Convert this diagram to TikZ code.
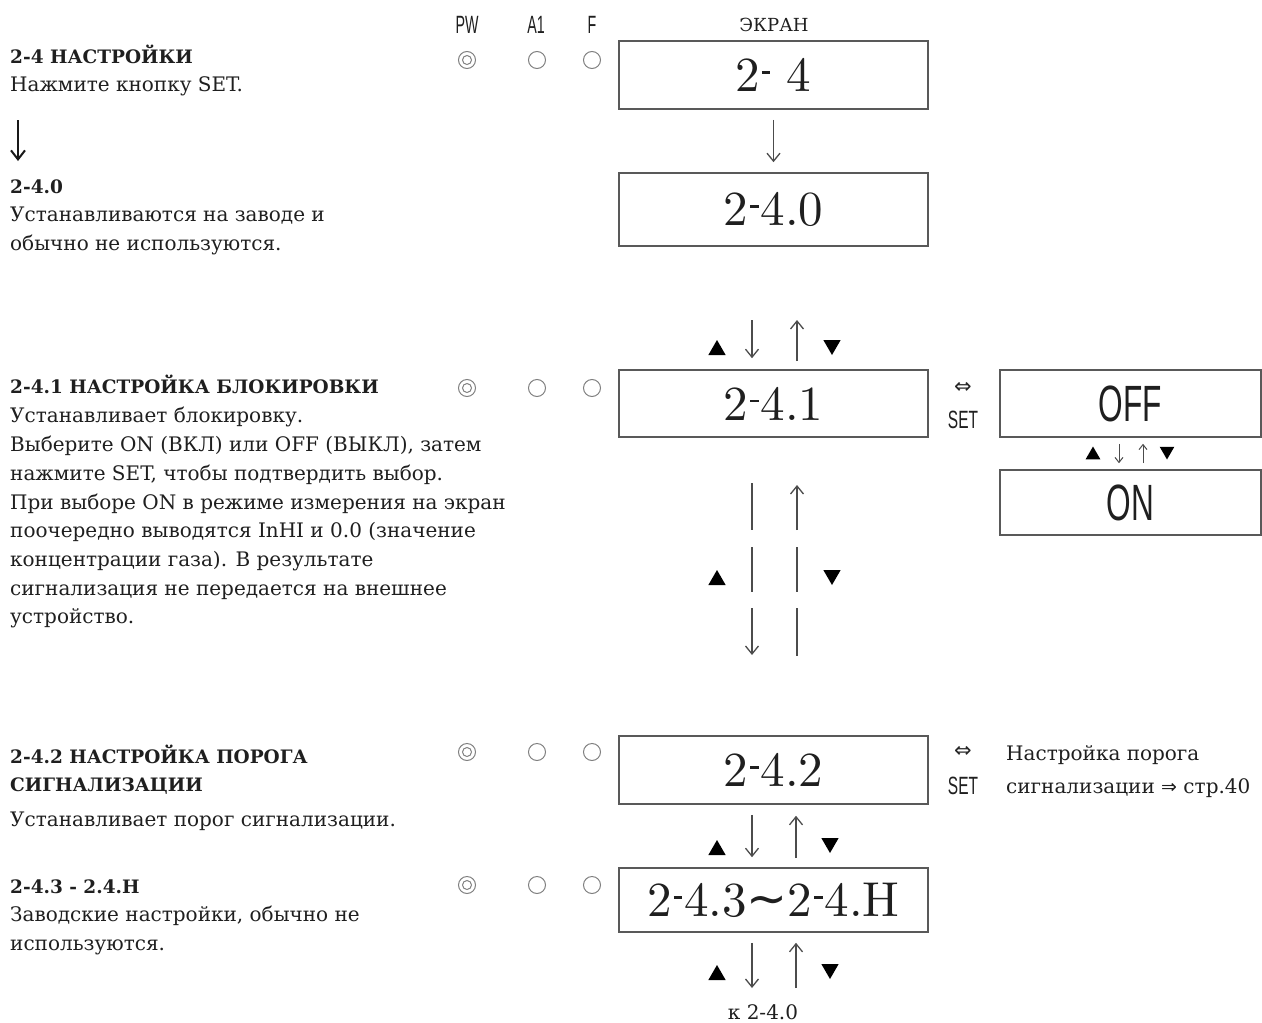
\documentclass[tikz,border=0pt]{standalone}
\usepackage{fontspec}
\usepackage{graphicx}
\usetikzlibrary{arrows.meta,shapes.geometric}
\newfontfamily\txtf{DejaVu Serif}
\newfontfamily\symf{DejaVu Sans}
\newfontfamily\condf{Liberation Sans}
\newfontfamily\lmten{lmroman10-regular.otf}
\newcommand\hy{\kern0.04em\rule[0.36em]{0.17em}{0.06em}\kern0.04em}
\newcommand\cnd[3]{\scalebox{#1}[1]{\condf\fontsize{#2}{#2}\selectfont #3}}
\newcommand\hd[1]{{\fontsize{18.5}{28.7}\selectfont\bfseries #1}}
\begin{document}
\begin{tikzpicture}[x=1pt,y=-1pt,
  disp/.style={draw=black!65, line width=1.6pt, minimum width=309pt, inner sep=0pt,
    font=\lmten\fontsize{49}{49}\selectfont, text=black!88},
  body/.style={anchor=base west, inner sep=0pt, font=\txtf\fontsize{20}{28.7}\selectfont, text=black!88},
  arr/.style={draw=black!70, line width=1.3pt, -{Straight Barb[length=8pt,width=13pt]}},
  arrs/.style={draw=black!70, line width=1pt, -{Straight Barb[length=5pt,width=8pt]}},
  ln/.style={draw=black!70, line width=1.3pt},
  bigarr/.style={draw=black!90, line width=2pt, -{Straight Barb[length=9pt,width=14pt]}},
  led/.style={circle, draw=black!50, line width=1pt, minimum size=17pt, inner sep=0pt},
  ledin/.style={circle, draw=black!50, line width=1pt, minimum size=9pt, inner sep=0pt},
  tri/.style={regular polygon, regular polygon sides=3, fill=black, draw=none, minimum size=20pt, inner sep=0pt},
  trd/.style={tri, shape border rotate=180},
  lab/.style={inner sep=0pt, text=black!88},
  sym/.style={inner sep=0pt, text=black!85, font=\symf\fontsize{21}{21}\selectfont}
]
\useasboundingbox (0,0) rectangle (1262,1023);

% ---------- header ----------
\node[lab] (hPW) at (467,25) {\cnd{0.57}{25}{PW}};
\node[lab] (hA1) at (536,25) {\cnd{0.57}{25}{A1}};
\node[lab] (hF)  at (592,25) {\cnd{0.57}{25}{F}};
\node[lab, font=\txtf\fontsize{18}{18}\selectfont] (hscr) at (774,25) {ЭКРАН};

% ---------- left texts ----------
\node[body] (tA) at (10,63) {\parbox[t]{600pt}{\raggedright\hd{2-4 НАСТРОЙКИ}\\Нажмите кнопку SET.}};
\coordinate (ga) at (18,120);
\coordinate (gb) at (18,161);
\draw[bigarr] (ga) -- (gb);
\node[body] (tB) at (10,193) {\parbox[t]{600pt}{\raggedright\hd{2-4.0}\\Устанавливаются на заводе и\\обычно не используются.}};
\node[body] (tC) at (10,393) {\parbox[t]{600pt}{\raggedright\hd{2-4.1 НАСТРОЙКА БЛОКИРОВКИ}\\[1.2pt]Устанавливает блокировку.\\Выберите ON (ВКЛ) или OFF (ВЫКЛ), затем\\нажмите SET, чтобы подтвердить выбор.\\При выборе ON в режиме измерения на экран\\поочередно выводятся InHI и 0.0 (значение\\концентрации газа). В результате\\сигнализация не передается на внешнее\\устройство.}};
\node[body] (tD) at (10,763) {\parbox[t]{600pt}{\raggedright\hd{2-4.2 НАСТРОЙКА ПОРОГА}\\\hd{СИГНАЛИЗАЦИИ}\\[6pt]Устанавливает порог сигнализации.}};
\node[body] (tE) at (10,893) {\parbox[t]{600pt}{\raggedright\hd{2-4.3 - 2.4.H}\\Заводские настройки, обычно не\\используются.}};

% ---------- LEDs ----------
\foreach \r/\y in {1/60,3/388,6/752,7/885}{
  \node[led] (p\r) at (467,\y) {};
  \node[ledin] (pi\r) at (p\r) {};
  \node[led] (a\r) at (537,\y) {};
  \node[led] (f\r) at (592,\y) {};
}

% ---------- display boxes ----------
\node[disp, minimum height=68pt] (b1) at (773.5,75) {2\hy\hspace{0.3em}4};
\node[disp, minimum height=73pt] (b2) at (773.5,209.5) {2\hy4.0};
\node[disp, minimum height=67pt] (b3) at (773.5,403.5) {2\hy4.1};
\node[disp, minimum height=68pt] (b6) at (773.5,770) {2\hy4.2};
\node[disp, minimum height=64pt] (b7) at (773.5,900) {2\hy4.3{\symf\raisebox{0.02em}{∼}}2\hy4.H};
\node[disp, minimum width=261pt, minimum height=67pt] (b4) at (1130.5,403.5) {\cnd{0.62}{51}{OFF}};
\node[disp, minimum width=261pt, minimum height=65pt] (b5) at (1130.5,502.5) {\cnd{0.62}{51}{ON}};

% ---------- SET labels ----------
\node[sym] (e3) at (963,388) {⇔};
\node[lab] (s3) at (963,420) {\cnd{0.62}{25}{SET}};
\node[sym] (e6) at (963,752) {⇔};
\node[lab] (s6) at (963,786) {\cnd{0.62}{25}{SET}};
\node[body, font=\txtf\fontsize{20}{33}\selectfont] (rt) at (1006,760) {\parbox[t]{300pt}{\raggedright Настройка порога\\сигнализации {\symf\fontsize{19}{19}\selectfont ⇒} стр.40}};

% ---------- connectors ----------
\draw[arr, shorten <=10pt, shorten >=10pt] (b1) -- (b2);

\coordinate (u3d) at (752,320);
\coordinate (u3u) at (797,320);
\draw[arr, shorten >=11pt] (u3d) -- (u3d |- b3.north);
\draw[arr, shorten <=8pt] (u3u |- b3.north) -- (u3u);

% broken loop below 2-4.1
\draw[ln] (752,483) -- (752,530);
\draw[ln] (752,547) -- (752,592);
\draw[arr] (752,608) -- (752,655);
\draw[arr] (797,530) -- (797,485);
\draw[ln] (797,547) -- (797,592);
\draw[ln] (797,608) -- (797,656);

% OFF / ON
\draw[arrs, shorten <=6pt, shorten >=6pt] ([xshift=-11.5pt]b4.south) -- ([xshift=-11.5pt]b5.north);
\draw[arrs, shorten <=6pt, shorten >=6pt] ([xshift=12.5pt]b5.north) -- ([xshift=12.5pt]b4.south);

% 2-4.2 <-> 2-4.3
\draw[arr, shorten <=10pt, shorten >=10pt] ([xshift=-21.5pt]b6.south) -- ([xshift=-21.5pt]b7.north);
\draw[arr, shorten <=9pt, shorten >=11pt] ([xshift=22.5pt]b7.north) -- ([xshift=22.5pt]b6.south);

% below 2-4.3
\coordinate (k1) at (752,988);
\coordinate (k2) at (796,988);
\draw[arr, shorten <=10pt] ([xshift=-21.5pt]b7.south) -- (k1);
\draw[arr, shorten >=10pt] (k2) -- ([xshift=22.5pt]b7.south);
\node[lab, font=\txtf\fontsize{20}{20}\selectfont] (k) at (763,1012) {к 2-4.0};

% ---------- triangles ----------
\node[tri] (t1) at (717,350) {};
\node[trd] (t2) at (832,345) {};
\node[tri] (t3) at (717,580) {};
\node[trd] (t4) at (832,575) {};
\node[tri] (t5) at (717,850) {};
\node[trd] (t6) at (830,843) {};
\node[tri] (t7) at (717,975) {};
\node[trd] (t8) at (830,969) {};
\node[tri, minimum size=17pt] (t9) at (1093,455) {};
\node[trd, minimum size=17pt] (t10) at (1167,451) {};
\end{tikzpicture}
\end{document}
